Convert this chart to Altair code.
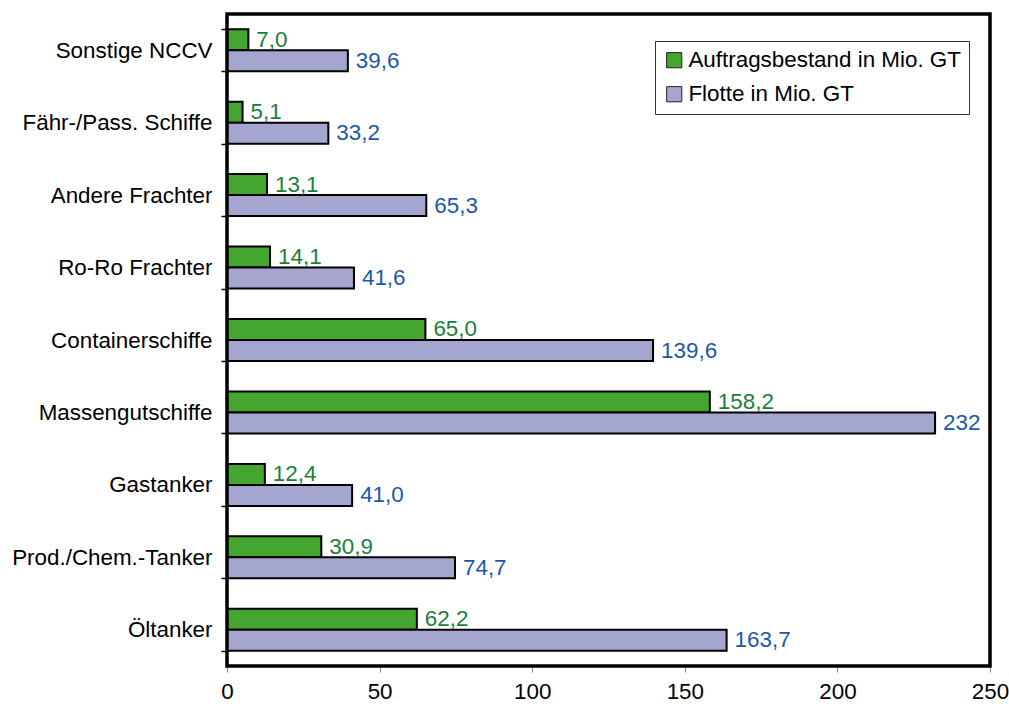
import altair as alt
import pandas as pd

# Ship types, top to bottom
categories = [
    "Sonstige NCCV",
    "Fähr-/Pass. Schiffe",
    "Andere Frachter",
    "Ro-Ro Frachter",
    "Containerschiffe",
    "Massengutschiffe",
    "Gastanker",
    "Prod./Chem.-Tanker",
    "Öltanker",
]
# Order book and fleet, million GT
orderbook = [7.0, 5.1, 13.1, 14.1, 65.0, 158.2, 12.4, 30.9, 62.2]
fleet = [39.6, 33.2, 65.3, 41.6, 139.6, 232, 41.0, 74.7, 163.7]

series_names = ["Auftragsbestand in Mio. GT", "Flotte in Mio. GT"]
bar_colors = ["#44a62e", "#a5a6cf"]
text_colors = ["#1a7f3a", "#1b58a5"]
x_ticks = [0, 50, 100, 150, 200, 250]

W, H = 763, 652
FONT = "Liberation Sans"
FS = 22.4


def fmt(v):
    if isinstance(v, int):
        return str(v)
    return f"{v:.1f}".replace(".", ",")


rows = []
for cat, a, f in zip(categories, orderbook, fleet):
    rows.append({"Typ": cat, "Serie": series_names[0], "Wert": float(a), "Text": fmt(a), "Pos": 0})
    rows.append({"Typ": cat, "Serie": series_names[1], "Wert": float(f), "Text": fmt(f), "Pos": 1})
df = pd.DataFrame(rows)

y_enc = alt.Y(
    "Typ:N",
    sort=categories,
    title=None,
    scale=alt.Scale(paddingInner=0.42, paddingOuter=0.21),
    axis=alt.Axis(
        tickBand="extent",
        domain=False,
        tickColor="black",
        tickWidth=1.5,
        tickSize=6,
        labelPadding=9,
        labelFontSize=FS,
        labelFont=FONT,
        labelColor="black",
        labelLimit=400,
    ),
)
x_enc = alt.X(
    "Wert:Q",
    title=None,
    scale=alt.Scale(domain=[0, 250], nice=False),
    axis=alt.Axis(
        values=x_ticks,
        grid=False,
        domain=False,
        tickColor="#888888",
        tickWidth=1,
        tickSize=6,
        labelPadding=8,
        labelFontSize=FS,
        labelFont=FONT,
        labelColor="black",
        labelFlush=False,
    ),
)
yoff = alt.YOffset("Pos:O", scale=alt.Scale(paddingInner=0.0))

bars = alt.Chart(df).mark_bar(stroke="black", strokeWidth=2, cornerRadius=0).encode(
    y=y_enc,
    x=x_enc,
    yOffset=yoff,
    color=alt.Color(
        "Serie:N",
        sort=series_names,
        scale=alt.Scale(domain=series_names, range=bar_colors),
        legend=alt.Legend(
            title=None,
            orient="none",
            legendX=428,
            legendY=27,
            direction="vertical",
            strokeColor="#333333",
            fillColor="white",
            padding=8,
            symbolType="square",
            symbolSize=230,
            symbolStrokeColor="#222222",
            symbolStrokeWidth=1,
            labelFontSize=FS,
            labelFont=FONT,
            labelColor="black",
            labelLimit=500,
            rowPadding=11,
            labelOffset=3,
            offset=0,
        ),
    ),
)

labels = alt.Chart(df).mark_text(
    align="left", baseline="middle", dx=8, fontSize=FS, font=FONT
).encode(
    y=alt.Y("Typ:N", sort=categories),
    x=alt.X("Wert:Q"),
    yOffset=yoff,
    text="Text:N",
    color=alt.Color(
        "Serie:N",
        scale=alt.Scale(domain=series_names, range=text_colors),
        legend=None,
    ),
)

# Heavy black frame around the plot area
frame = alt.Chart(pd.DataFrame({"k": [0]})).mark_rect(
    fill=None, stroke="black", strokeWidth=3.5
).encode(
    x=alt.value(0), x2=alt.value(W), y=alt.value(0), y2=alt.value(H)
)

chart = (
    alt.layer(bars, labels, frame)
    .resolve_scale(color="independent")
    .properties(
        width=W,
        height=H,
        autosize=alt.AutoSizeParams(type="none"),
        padding={"left": 227, "top": 14, "right": 19, "bottom": 40},
    )
    .configure_view(stroke=None)
    .configure(background="white")
)

chart.save("out.html", embed_options={"renderer": "svg", "actions": False})
